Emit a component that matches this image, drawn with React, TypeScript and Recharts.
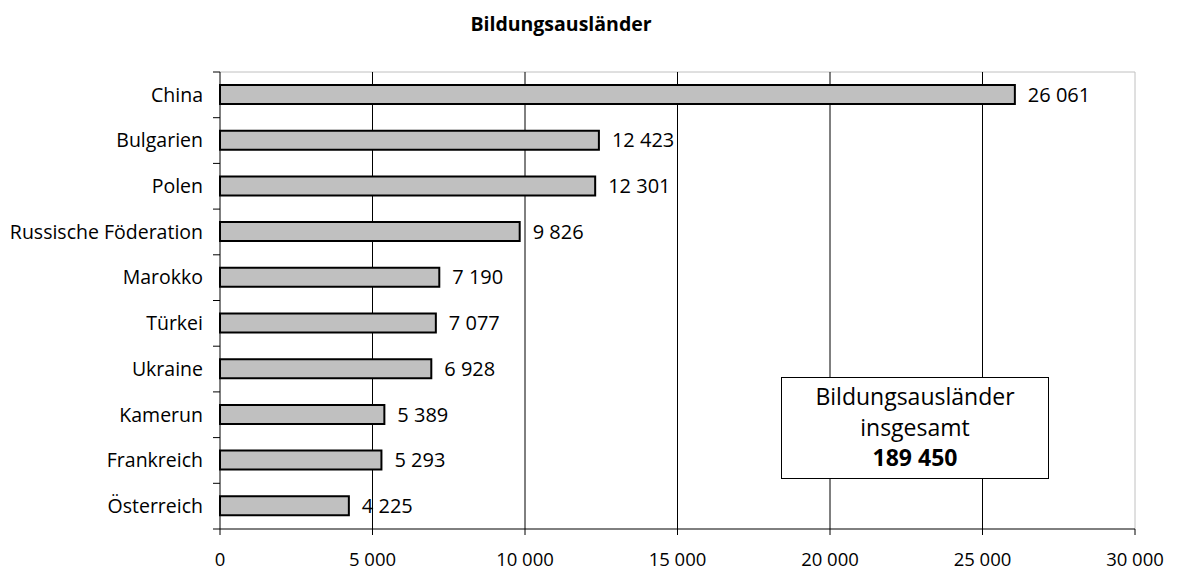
import React from 'react';
import {
  BarChart,
  Bar,
  XAxis,
  YAxis,
  CartesianGrid,
  LabelList,
} from 'recharts';

const countries = [
  'China',
  'Bulgarien',
  'Polen',
  'Russische Föderation',
  'Marokko',
  'Türkei',
  'Ukraine',
  'Kamerun',
  'Frankreich',
  'Österreich',
];
const students = [26061, 12423, 12301, 9826, 7190, 7077, 6928, 5389, 5293, 4225];
const xTicks = [0, 5000, 10000, 15000, 20000, 25000, 30000];
const gridValues = [5000, 10000, 15000, 20000, 25000];
const title = 'Bildungsausländer';
const totalLabel = ['Bildungsausländer', 'insgesamt'];
const total = 189450;

const chartData = countries.map((name, i) => ({ name, value: students[i] }));

const fmt = (n: number) => String(n).replace(/\B(?=(\d{3})+(?!\d))/g, ' ');

const LABEL_GAP = 17;

const CountryTick = (props: any) => {
  const { x, y, payload, index, visibleTicksCount } = props;
  const half = payload.offset ?? 0;
  const axisX = x + LABEL_GAP;
  return (
    <g>
      <text x={x} y={y} dy="0.35em" textAnchor="end" fontSize={19.5} fill="#000">
        {payload.value}
      </text>
      <line x1={axisX - 7} x2={axisX} y1={y - half} y2={y - half} stroke="#000" />
      {index === visibleTicksCount - 1 && (
        <line x1={axisX - 7} x2={axisX} y1={y + half} y2={y + half} stroke="#000" />
      )}
    </g>
  );
};

// light frame along the top and right edge of the plot area
const topEdge = ({ offset }: any) => [offset.top];
const rightEdge = ({ offset }: any) => [offset.left + offset.width];

const App: React.FC = () => {
  return (
    <div
      style={{
        position: 'absolute',
        left: 0,
        top: 0,
        width: 1179,
        height: 573,
        fontFamily: '"Open Sans", sans-serif',
        color: '#000',
        background: '#fff',
      }}
    >
      <div
        style={{
          position: 'absolute',
          left: 361,
          width: 400,
          top: 10,
          textAlign: 'center',
          fontWeight: 'bold',
          fontSize: 19.5,
        }}
      >
        {title}
      </div>
      <BarChart
        layout="vertical"
        width={1179}
        height={573}
        data={chartData}
        margin={{ top: 72, right: 44, bottom: 0, left: 0 }}
      >
        <CartesianGrid
          stroke="#c0c0c0"
          horizontalCoordinatesGenerator={topEdge}
          verticalCoordinatesGenerator={rightEdge}
        />
        <CartesianGrid horizontal={false} stroke="#000" verticalValues={gridValues} />
        <XAxis
          type="number"
          domain={[0, 30000]}
          ticks={xTicks}
          tickFormatter={fmt}
          height={44}
          tickSize={6}
          tickMargin={18}
          stroke="#000"
          tick={{ fill: '#000', fontSize: 18.5 }}
        />
        <YAxis
          type="category"
          dataKey="name"
          width={220}
          tickSize={0}
          tickMargin={LABEL_GAP}
          tickLine={false}
          stroke="#000"
          tick={<CountryTick />}
          interval={0}
        />
        <Bar
          dataKey="value"
          fill="#c0c0c0"
          stroke="#000"
          strokeWidth={2}
          barSize={19}
          isAnimationActive={false}
        >
          <LabelList
            dataKey="value"
            position="right"
            offset={13}
            formatter={(v: any) => fmt(Number(v))}
            style={{ fill: '#000', fontSize: 20 }}
          />
        </Bar>
      </BarChart>
      <div
        style={{
          position: 'absolute',
          left: 781,
          top: 377,
          width: 268,
          height: 102,
          border: '1.5px solid #000',
          background: '#fff',
          textAlign: 'center',
          fontSize: 23,
          lineHeight: '30.5px',
          paddingTop: 3,
          boxSizing: 'border-box',
        }}
      >
        <div>{totalLabel[0]}</div>
        <div>{totalLabel[1]}</div>
        <div style={{ fontWeight: 'bold' }}>{fmt(total)}</div>
      </div>
    </div>
  );
};

export default App;
